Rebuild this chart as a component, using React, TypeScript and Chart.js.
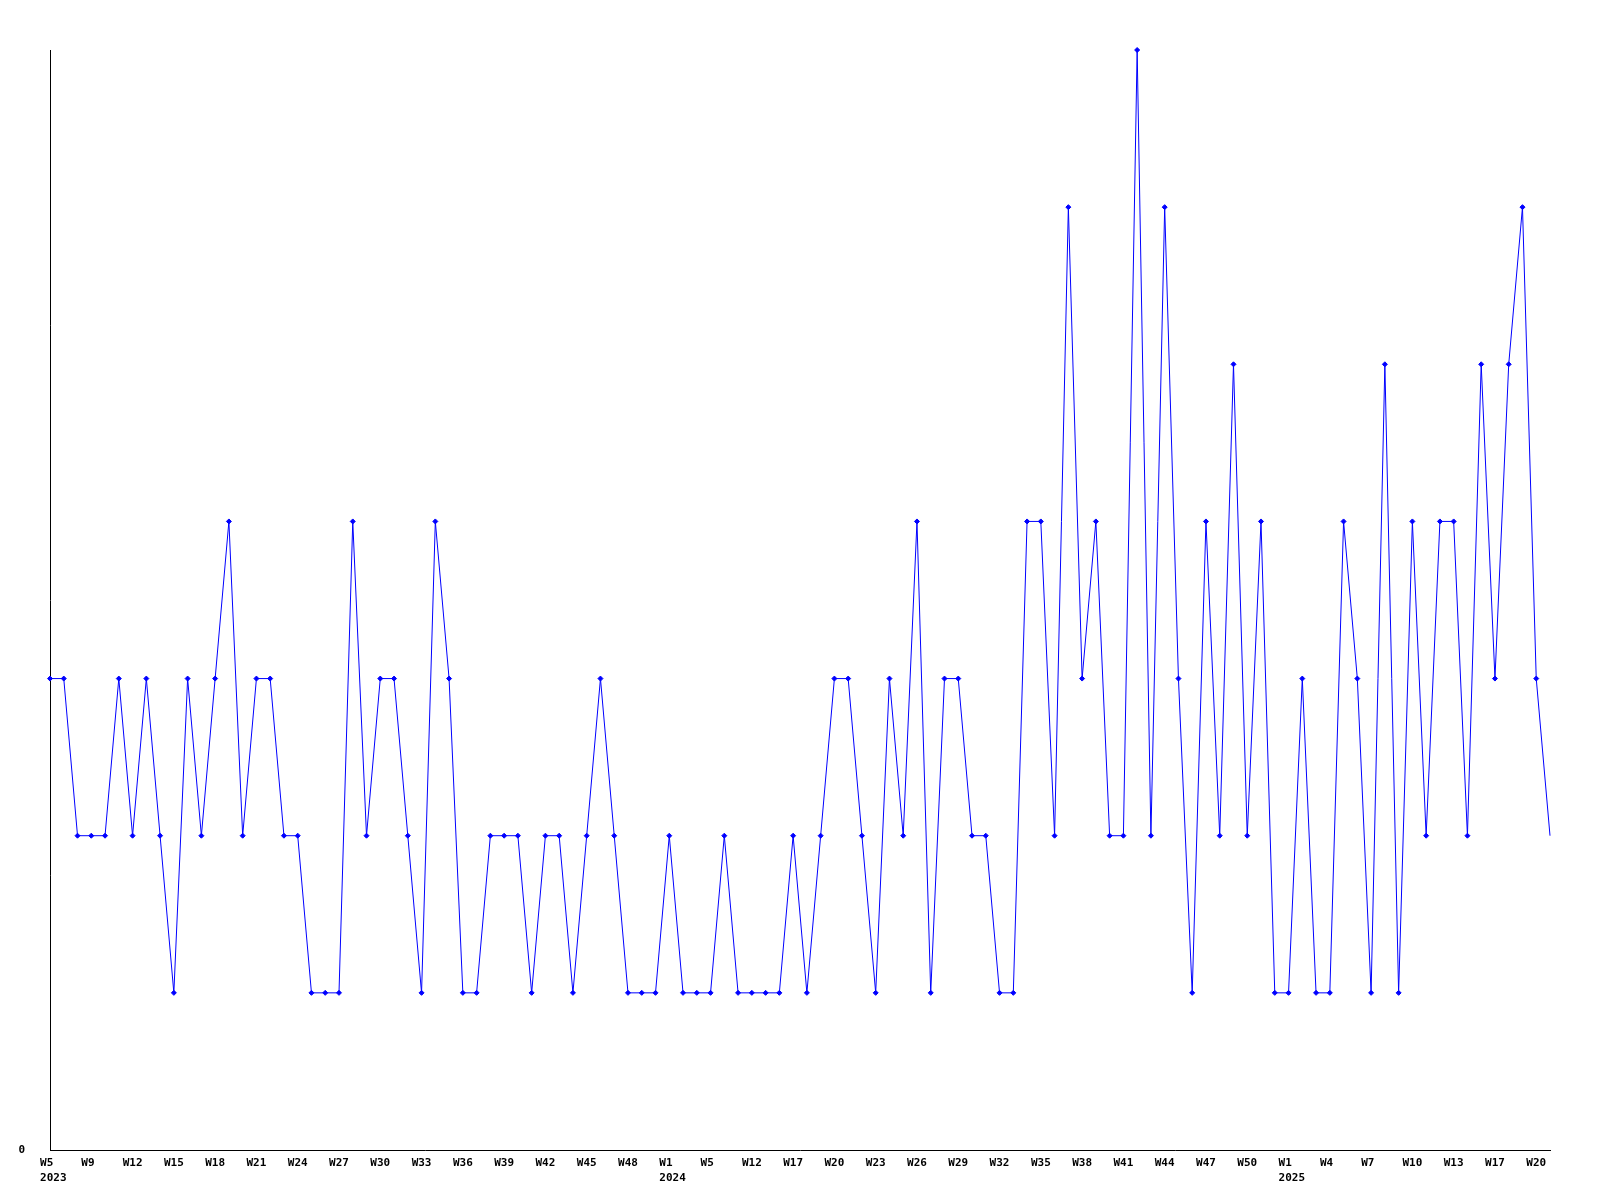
import React, { useEffect, useRef } from 'react';
import { Chart, registerables } from 'chart.js';

Chart.register(...registerables);

// Week label of each data point (one point per reported week)
const weekLabels: string[] = [
  'W5', 'W7', 'W8', 'W9', 'W10', 'W11', 'W12', 'W13', 'W14', 'W15',
  'W16', 'W17', 'W18', 'W19', 'W20', 'W21', 'W22', 'W23', 'W24', 'W25',
  'W26', 'W27', 'W28', 'W29', 'W30', 'W31', 'W32', 'W33', 'W34', 'W35',
  'W36', 'W37', 'W38', 'W39', 'W40', 'W41', 'W42', 'W43', 'W44', 'W45',
  'W46', 'W47', 'W48', 'W49', 'W51',
  'W1', 'W2', 'W4', 'W5', 'W8', 'W10', 'W12', 'W14', 'W15', 'W17',
  'W18', 'W19', 'W20', 'W21', 'W22', 'W23', 'W24', 'W25', 'W26', 'W27',
  'W28', 'W29', 'W30', 'W31', 'W32', 'W33', 'W34', 'W35', 'W36', 'W37',
  'W38', 'W39', 'W40', 'W41', 'W42', 'W43', 'W44', 'W45', 'W46', 'W47',
  'W48', 'W49', 'W50', 'W51', 'W52',
  'W1', 'W2', 'W3', 'W4', 'W5', 'W6', 'W7', 'W8', 'W9', 'W10',
  'W11', 'W12', 'W13', 'W14', 'W16', 'W17', 'W18', 'W19', 'W20', 'W21',
];

// Year shown under the first week label of each year
const yearLabels: string[] = ['2023', '2024', '2025'];
const yearStartIndex: number[] = [0, 45, 90];

// Weekly counts
const counts: number[] = [
  3, 3, 2, 2, 2, 3, 2, 3, 2, 1,
  3, 2, 3, 4, 2, 3, 3, 2, 2, 1,
  1, 1, 4, 2, 3, 3, 2, 1, 4, 3,
  1, 1, 2, 2, 2, 1, 2, 2, 1, 2,
  3, 2, 1, 1, 1, 2, 1, 1, 1, 2,
  1, 1, 1, 1, 2, 1, 2, 3, 3, 2,
  1, 3, 2, 4, 1, 3, 3, 2, 2, 1,
  1, 4, 4, 2, 6, 3, 4, 2, 2, 7,
  2, 6, 3, 1, 4, 2, 5, 2, 4, 1,
  1, 3, 1, 1, 4, 3, 1, 5, 1, 4,
  2, 4, 4, 2, 5, 3, 5, 6, 3, 2,
];

const yTickValues: number[] = [0];
const LABEL_STEP = 3;

const tickFont = { family: "'DejaVu Sans Mono', monospace", size: 11, weight: 'bold' as const, lineHeight: 1.4 };

export default function App() {
  const ref = useRef<HTMLCanvasElement>(null);

  useEffect(() => {
    document.body.style.margin = '0';
    const canvas = ref.current;
    if (!canvas) return;
    const chart = new Chart(canvas, {
      type: 'line',
      data: {
        labels: weekLabels,
        datasets: [
          {
            data: counts,
            borderColor: '#0000ff',
            borderWidth: 1,
            backgroundColor: '#0000ff',
            pointStyle: 'rectRot',
            pointRadius: (ctx: any) => (ctx.dataIndex === counts.length - 1 ? 0 : 2.5),
            pointBackgroundColor: '#0000ff',
            pointBorderColor: '#0000ff',
            pointBorderWidth: 1,
            tension: 0,
            fill: false,
            clip: false as any,
          },
        ],
      },
      options: {
        animation: false,
        responsive: false,
        layout: { padding: { top: 50, right: 50, left: 0, bottom: 0 } },
        plugins: { legend: { display: false }, tooltip: { enabled: false } },
        scales: {
          x: {
            type: 'category',
            offset: false,
            grid: { display: false, drawTicks: false },
            border: { display: true, color: '#000000', width: 1 },
            ticks: {
              autoSkip: false,
              maxRotation: 0,
              minRotation: 0,
              padding: 5,
              color: '#000000',
              font: tickFont,
              callback: (_v: any, i: number) => {
                if (i % LABEL_STEP !== 0) return null;
                // pad so text starts a fixed distance left of the tick (left-aligned look)
                const wk = weekLabels[i].padEnd(3, ' ');
                const y = yearStartIndex.indexOf(i);
                return y >= 0 ? [wk, ' ' + yearLabels[y]] : wk;
              },
            },
            afterFit: (s: any) => {
              s.height = 50;
            },
          },
          y: {
            min: 0,
            max: 7,
            grid: { display: false, drawTicks: false },
            border: { display: true, color: '#000000', width: 1 },
            ticks: { padding: 25, color: '#000000', font: tickFont },
            afterBuildTicks: (s: any) => {
              s.ticks = yTickValues.map((v) => ({ value: v }));
            },
            afterFit: (s: any) => {
              s.width = 50;
            },
          },
        },
      },
    });
    return () => chart.destroy();
  }, []);

  return (
    <div style={{ width: 1600, height: 1200, background: '#ffffff' }}>
      <canvas ref={ref} width={1600} height={1200} />
    </div>
  );
}
